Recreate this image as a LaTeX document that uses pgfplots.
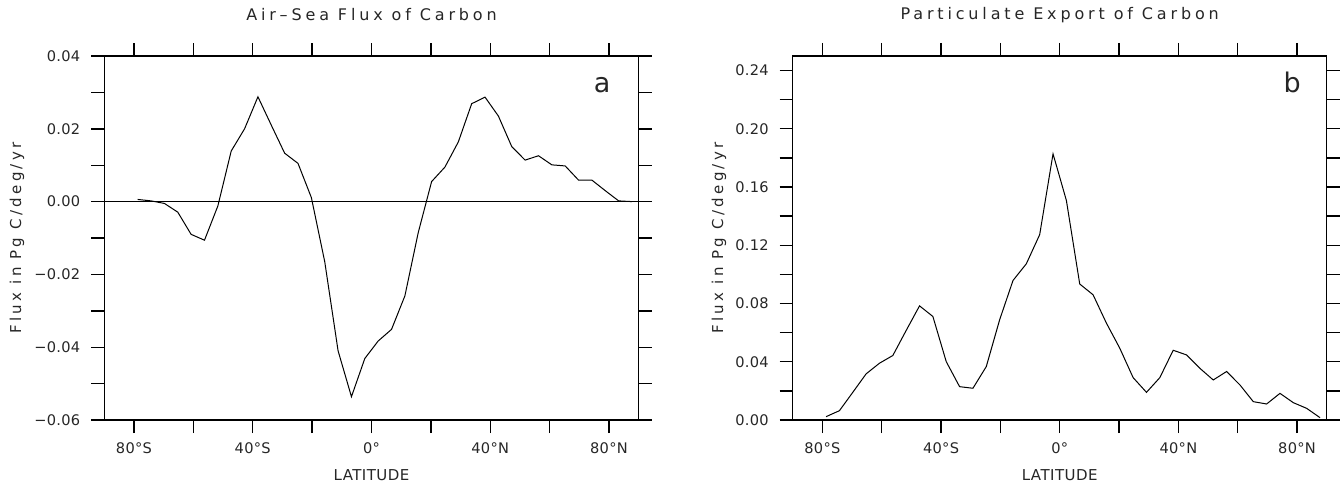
\documentclass[border=0pt]{standalone}
\usepackage{fontspec}
\setmainfont{DejaVu Sans}
\newfontfamily\tfont{DejaVu Sans}[LetterSpace=24]
\newfontfamily\yfont{DejaVu Sans}[LetterSpace=22]
\newfontfamily\lfont{DejaVu Sans}[LetterSpace=2]
\newfontfamily\xfont{DejaVu Sans}[LetterSpace=3]
\usepackage{pgfplots}
\pgfplotsset{compat=1.18}
\pgfplotstableread{
lat val
-78.75 0.0006
-74.25 0.0002
-69.75 -0.0005
-65.25 -0.0029
-60.75 -0.0090
-56.25 -0.0106
-51.75 -0.0012
-47.25 0.0139
-42.75 0.0200
-38.25 0.0288
-33.75 0.0210
-29.25 0.0133
-24.75 0.0105
-20.25 0.0011
-15.75 -0.0165
-11.25 -0.0410
-6.75 -0.0536
-2.25 -0.0431
2.25 -0.0383
6.75 -0.0351
11.25 -0.0259
15.75 -0.0085
20.25 0.0055
24.75 0.0095
29.25 0.0164
33.75 0.0269
38.25 0.0287
42.75 0.0235
47.25 0.0151
51.75 0.0114
56.25 0.0126
60.75 0.0101
65.25 0.0098
69.75 0.0059
74.25 0.0059
78.75 0.0030
83.25 0.0002
87.75 0.0000
}\airsea
\pgfplotstableread{
lat val
-78.75 0.0023
-74.25 0.0064
-69.75 0.0190
-65.25 0.0317
-60.75 0.0390
-56.25 0.0443
-51.75 0.0615
-47.25 0.0784
-42.75 0.0711
-38.25 0.0401
-33.75 0.0229
-29.25 0.0218
-24.75 0.0367
-20.25 0.0688
-15.75 0.0958
-11.25 0.1073
-6.75 0.1273
-2.25 0.1828
2.25 0.1508
6.75 0.0934
11.25 0.0860
15.75 0.0665
20.25 0.0493
24.75 0.0291
29.25 0.0190
33.75 0.0291
38.25 0.0479
42.75 0.0447
47.25 0.0355
51.75 0.0275
56.25 0.0333
60.75 0.0241
65.25 0.0126
69.75 0.0110
74.25 0.0183
78.75 0.0119
83.25 0.0080
87.75 0.0016
}\partexp
\pgfplotsset{
  ncar/.style={
    scale only axis,
    anchor=south west,
    xmin=-90, xmax=90,
    enlargelimits=false,
    scaled y ticks=false,
    tick align=outside,
    major tick length=6.5pt,
    every tick/.style={black, line width=0.7pt},
    axis line style={line width=0.65pt},
    xtick={-80,-60,-40,-20,0,20,40,60,80},
    xticklabels={80°S,,40°S,,0°,,40°N,,80°N},
    tick label style={font=\lfont\fontsize{7.3pt}{8pt}\selectfont, text=black!85},
    xticklabel style={anchor=base, yshift=-10pt},
    yticklabel style={xshift=-2pt},
    label style={font=\xfont\fontsize{7.5pt}{8pt}\selectfont, text=black!85},
    title style={font=\tfont\fontsize{8pt}{9pt}\selectfont, text=black!85, at={(axis description cs:0.5,1)}, anchor=base, yshift=12pt},
    xlabel style={at={(axis description cs:0.5,0)}, anchor=base, yshift=-30.4pt},
    xlabel={LATITUDE},
  }
}
\begin{document}
\begin{tikzpicture}
\useasboundingbox (0,0) rectangle (671pt,243.5pt);
\begin{axis}[ncar,
  at={(52.15pt,33.5pt)}, width=267.2pt, height=182pt,
  ymin=-0.06, ymax=0.04,
  ytick={-0.06,-0.05,-0.04,-0.03,-0.02,-0.01,0,0.01,0.02,0.03,0.04},
  yticklabels={−0.06,,−0.04,,−0.02,,0.00,,0.02,,0.04},
  ylabel style={font=\yfont\fontsize{7.5pt}{8pt}\selectfont, at={([xshift=-41.6pt]axis description cs:0,0.5)}, anchor=base},
  ylabel={Flux in Pg C/deg/yr},
  title={Air–Sea Flux of Carbon},
]
\draw[line width=0.5pt] (axis cs:-90,0) -- (axis cs:90,0);
\addplot[black, line width=0.5pt] table[x=lat, y=val] {\airsea};
\node[anchor=base, font=\fontsize{13.5pt}{14pt}\selectfont, text=black!85] at (axis cs:77.7,0.0300) {a};
\end{axis}
\begin{axis}[ncar,
  at={(396.35pt,33.5pt)}, width=267pt, height=182pt,
  ymin=0, ymax=0.25,
  ytick={0,0.02,0.04,0.06,0.08,0.10,0.12,0.14,0.16,0.18,0.20,0.22,0.24},
  yticklabels={0.00,,0.04,,0.08,,0.12,,0.16,,0.20,,0.24},
  ylabel style={font=\yfont\fontsize{7.5pt}{8pt}\selectfont, at={([xshift=-34.85pt]axis description cs:0,0.5)}, anchor=base},
  ylabel={Flux in Pg C/deg/yr},
  title={Particulate Export of Carbon},
]
\addplot[black, line width=0.5pt] table[x=lat, y=val] {\partexp};
\node[anchor=base, font=\fontsize{13.5pt}{14pt}\selectfont, text=black!85] at (axis cs:78.4,0.2247) {b};
\end{axis}
\end{tikzpicture}
\end{document}
